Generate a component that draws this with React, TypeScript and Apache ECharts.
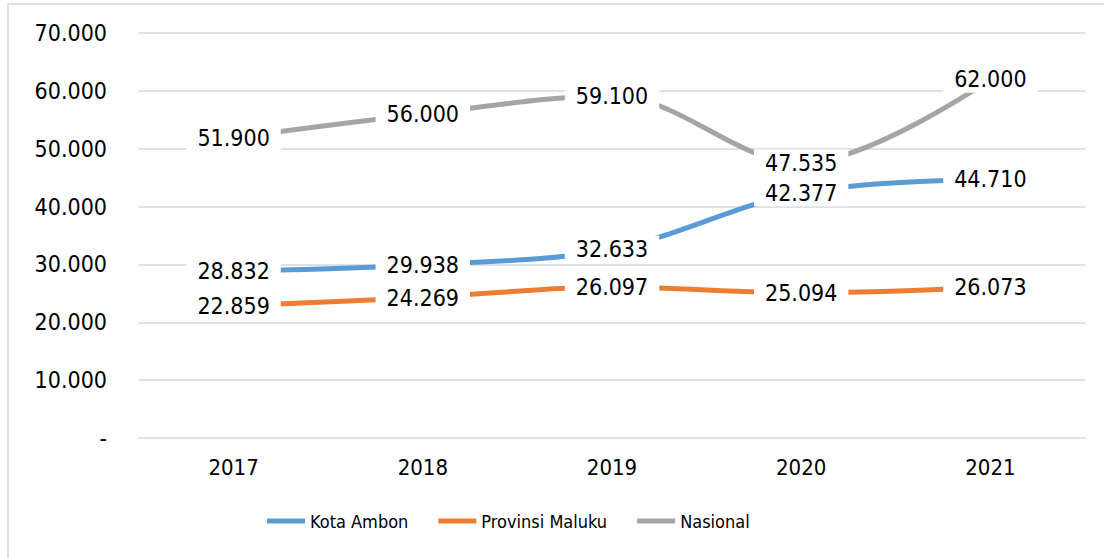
import React, { useEffect, useRef } from "react";
import * as echarts from "echarts";

const years = ["2017", "2018", "2019", "2020", "2021"];
const kotaAmbon = [28.832, 29.938, 32.633, 42.377, 44.71];
const provinsiMaluku = [22.859, 24.269, 26.097, 25.094, 26.073];
const nasional = [51.9, 56.0, 59.1, 47.535, 62.0];
const yTicks = [0, 10, 20, 30, 40, 50, 60, 70];

const FONT = "'DejaVu Sans Condensed', 'DejaVu Sans', sans-serif";

function fmt(v: number): string {
  if (v === 0) return "-";
  return v.toFixed(3);
}

export default function App() {
  const ref = useRef<HTMLDivElement>(null);
  useEffect(() => {
    document.body.style.margin = "0";
    const chart = echarts.init(ref.current!, null, { renderer: "svg" });
    const mk = (name: string, data: number[], color: string) => ({
      name,
      type: "line",
      data,
      smooth: 0.35,
      symbol: "circle",
      symbolSize: 0,
      showSymbol: true,
      lineStyle: { color, width: 5 },
      itemStyle: { color },
      z: 2,
      label: {
        show: true,
        position: "inside",
        formatter: (p: any) => fmt(p.value),
        fontFamily: FONT,
        fontSize: 23,
        color: "#000",
        backgroundColor: "#fff",
        padding: [2, 11],
      },
    });
    chart.setOption({
      animation: false,
      backgroundColor: "#fff",
      grid: { left: 139, right: 19, top: 33, bottom: 120 },
      graphic: [
        {
          type: "rect",
          shape: { x: 8, y: 4, width: 1200, height: 700 },
          style: { fill: "none", stroke: "#dde2e8", lineWidth: 2 },
          silent: true,
        },
      ],
      xAxis: {
        type: "category",
        data: years,
        boundaryGap: true,
        axisLine: { show: true, lineStyle: { color: "#dde2e8", width: 2 } },
        axisTick: { show: false },
        axisLabel: { fontFamily: FONT, fontSize: 22, color: "#000", margin: 18 },
      },
      yAxis: {
        type: "value",
        min: yTicks[0],
        max: yTicks[yTicks.length - 1],
        interval: 10,
        axisLine: { show: false },
        axisTick: { show: false },
        splitLine: { lineStyle: { color: "#dde2e8", width: 2 } },
        axisLabel: {
          fontFamily: FONT,
          fontSize: 23,
          color: "#000",
          margin: 32,
          formatter: (v: number) => fmt(v),
        },
      },
      legend: {
        bottom: 23,
        left: 262,
        itemWidth: 38,
        itemHeight: 5,
        itemGap: 30,
        icon: "rect",
        textStyle: { fontFamily: FONT, fontSize: 18, color: "#000" },
        data: ["Kota Ambon", "Provinsi Maluku", "Nasional"],
      },
      series: [
        mk("Nasional", nasional, "#A5A5A5"),
        mk("Provinsi Maluku", provinsiMaluku, "#ED7D31"),
        mk("Kota Ambon", kotaAmbon, "#5B9BD5"),
      ],
    });
    return () => chart.dispose();
  }, []);
  return <div ref={ref} style={{ width: 1104, height: 558 }} />;
}
